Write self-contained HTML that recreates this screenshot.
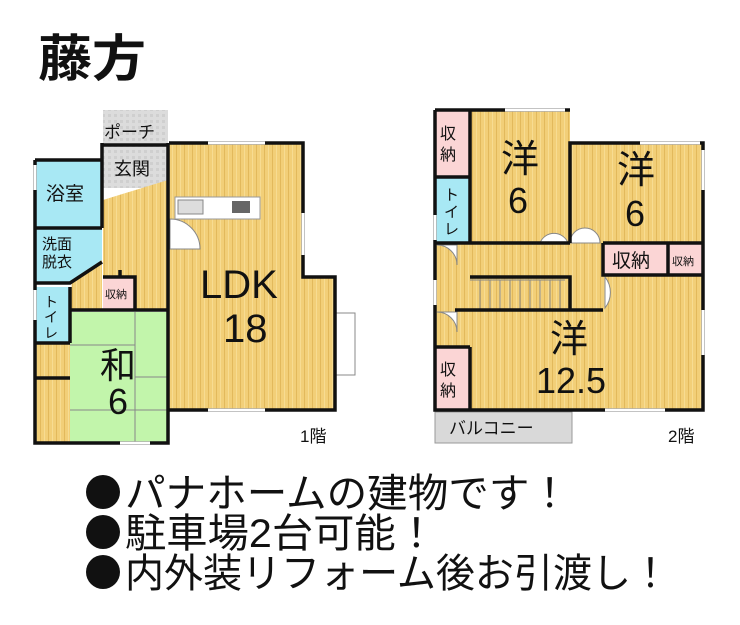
<!DOCTYPE html>
<html><head><meta charset="utf-8"><style>
html,body{margin:0;padding:0;background:#fff;}
svg{display:block;}
text{font-family:"Liberation Sans","Noto Sans CJK JP",sans-serif;fill:#111;}
</style></head><body>
<svg width="740" height="625" viewBox="0 0 740 625" xmlns="http://www.w3.org/2000/svg">
<defs>
<pattern id="wood" width="8" height="10" patternUnits="userSpaceOnUse">
<rect width="8" height="10" fill="#f2cf78"/><rect x="0" width="1" height="10" fill="#e2b95c"/><rect x="4" width="1" height="10" fill="#f7dc92"/>
</pattern>
<pattern id="tile" width="6" height="6" patternUnits="userSpaceOnUse">
<rect width="6" height="6" fill="#dcdcdc"/><rect width="3" height="3" fill="#cfcfcf"/>
</pattern>
</defs>
<text x="38" y="76" font-size="50" font-weight="bold" textLength="108" lengthAdjust="spacingAndGlyphs">藤方</text>

<!-- 1F -->
<rect x="103" y="110" width="65" height="33" fill="url(#tile)"/>
<rect x="103" y="143" width="65" height="45" fill="url(#tile)"/>
<polygon points="103,200 168,180 168,310 103,310" fill="url(#wood)"/>
<rect x="169" y="143" width="134" height="267" fill="url(#wood)"/>
<rect x="300" y="277" width="35" height="133" fill="url(#wood)"/>
<rect x="335" y="313" width="20" height="62" fill="#fff" stroke="#888" stroke-width="1"/>
<rect x="35" y="160" width="67" height="68" fill="#a8e8f4"/>
<polygon points="35,228 102,228 102,260 72,280 70,283 35,283" fill="#a8e8f4"/>
<polygon points="72,280 102,260 102,310 70,310" fill="url(#wood)"/>
<rect x="103" y="277" width="32" height="33" fill="#fbd5d5"/>
<rect x="135" y="270" width="33" height="40" fill="url(#wood)"/>
<rect x="35" y="287" width="35" height="56" fill="#a8e8f4"/>
<rect x="70" y="312" width="98" height="131" fill="#c2f5ab"/>
<g stroke="#888" stroke-width="1" fill="none"><line x1="70" y1="345" x2="135" y2="345"/><line x1="70" y1="410" x2="168" y2="410"/><line x1="135" y1="312" x2="135" y2="443"/><line x1="135" y1="377" x2="168" y2="377"/></g>
<rect x="35" y="343" width="35" height="100" fill="url(#wood)"/>
<rect x="175" y="197" width="85" height="22" fill="#fff" stroke="#999"/>
<rect x="178" y="200" width="25" height="14" fill="#ddd" stroke="#888"/>
<rect x="232" y="201" width="18" height="12" fill="#666"/>
<path d="M170,219 A30,30 0 0 1 200,249 L170,249 Z" fill="#fff" stroke="#888"/>
<g stroke="#111" stroke-width="3.5" fill="none">
<path d="M169,143 H303 V277 H335 V410 H169"/>
<path d="M35,160 H102 M35,160 V443 H168 V410"/>
<path d="M102,143 V228 M102,145 H168 M168,143 V410"/>
<path d="M35,228 H102 M35,283 H70 L102,262 M70,287 V343 M35,343 H70 M35,378 H70"/>
<path d="M103,277 H135 V310 M70,310 H168 M120,270 V276"/>
</g>
<g stroke="#fff" stroke-width="3"><line x1="208" y1="143" x2="265" y2="143"/><line x1="208" y1="410" x2="265" y2="410"/><line x1="303" y1="213" x2="303" y2="255"/><line x1="35" y1="165" x2="35" y2="190"/><line x1="35" y1="290" x2="35" y2="320"/><line x1="120" y1="443" x2="150" y2="443"/></g>
<text x="104" y="138" font-size="17">ポーチ</text>
<text x="114" y="175" font-size="18">玄関</text>
<text x="46" y="200" font-size="19">浴室</text>
<text x="42" y="249" font-size="15">洗面</text>
<text x="42" y="267" font-size="15">脱衣</text>
<text x="105" y="298" font-size="11">収納</text>
<text x="44" y="307" font-size="14">ト</text><text x="44" y="322" font-size="14">イ</text><text x="44" y="338" font-size="14">レ</text>
<text x="200" y="298" font-size="40">LDK</text>
<text x="223" y="342" font-size="40">18</text>
<text x="100" y="378" font-size="36">和</text>
<text x="108" y="414" font-size="36">6</text>
<text x="300" y="442" font-size="17">1階</text>

<!-- 2F -->
<rect x="435" y="110" width="268" height="300" fill="url(#wood)"/>
<rect x="570" y="110" width="133" height="33" fill="#fff"/>
<rect x="435" y="110" width="35" height="67" fill="#fbd5d5"/>
<rect x="435" y="177" width="35" height="66" fill="#a8e8f4"/>
<rect x="603" y="243" width="65" height="32" fill="#fbd5d5"/>
<rect x="668" y="243" width="35" height="32" fill="#fbd5d5"/>
<rect x="435" y="347" width="35" height="63" fill="#fbd5d5"/>
<rect x="435" y="412" width="137" height="31" fill="#d9d9d9" stroke="#999"/>
<g stroke="#888" stroke-width="1" fill="none"><path d="M470,280 H565 M480,280 V310 M490,280 V310 M500,280 V310 M510,280 V310 M520,280 V310 M530,280 V310 M540,280 V310 M550,280 V310 M560,280 V310"/></g>
<g fill="#fff" stroke="#888"><path d="M540,243 A15,15 0 0 1 568,243 Z"/><path d="M570,243 A15,15 0 0 1 600,243 Z"/><path d="M437,245 A20,20 0 0 1 457,265 V245 Z"/><path d="M605,277 A25,25 0 0 1 605,308 Z"/><path d="M437,312 A20,20 0 0 1 457,332 V312 Z"/></g>
<g stroke="#111" stroke-width="3.5" fill="none">
<path d="M435,110 H570 M435,110 V410 H703 V143 H570 V243"/>
<path d="M435,177 H470 V243 M435,243 H570 M470,110 V177 M470,347 V410 M435,347 H470"/>
<path d="M603,243 H703 M603,243 V275 H703 M668,243 V275"/>
<path d="M470,277 H570 V310 H603 M455,310 H603"/>
</g>
<g stroke="#fff" stroke-width="3"><line x1="505" y1="110" x2="565" y2="110"/><line x1="640" y1="143" x2="700" y2="143"/><line x1="703" y1="150" x2="703" y2="190"/><line x1="703" y1="310" x2="703" y2="355"/><line x1="605" y1="410" x2="665" y2="410"/><line x1="435" y1="215" x2="435" y2="240"/><line x1="435" y1="280" x2="435" y2="305"/></g>
<text x="440" y="139" font-size="16">収</text><text x="440" y="160" font-size="16">納</text>
<text x="444" y="200" font-size="15">ト</text><text x="444" y="217" font-size="15">イ</text><text x="444" y="234" font-size="15">レ</text>
<text x="501" y="172" font-size="38">洋</text><text x="508" y="213" font-size="36">6</text>
<text x="617" y="183" font-size="38">洋</text><text x="625" y="226" font-size="36">6</text>
<text x="612" y="267" font-size="19">収納</text>
<text x="672" y="265" font-size="11">収納</text>
<text x="550" y="352" font-size="38">洋</text>
<text x="536" y="393" font-size="36">12.5</text>
<text x="440" y="375" font-size="16">収</text><text x="440" y="396" font-size="16">納</text>
<text x="449" y="434" font-size="17">バルコニー</text>
<text x="668" y="442" font-size="17">2階</text>

<circle cx="103" cy="492" r="17" fill="#111"/>
<circle cx="103" cy="532" r="17" fill="#111"/>
<circle cx="103" cy="572" r="17" fill="#111"/>
<text x="125" y="507" font-size="40" textLength="445" lengthAdjust="spacingAndGlyphs">パナホームの建物です！</text>
<text x="125" y="547" font-size="40" textLength="312" lengthAdjust="spacingAndGlyphs">駐車場2台可能！</text>
<text x="125" y="587" font-size="40" textLength="545" lengthAdjust="spacingAndGlyphs">内外装リフォーム後お引渡し！</text>
</svg>
</body></html>
